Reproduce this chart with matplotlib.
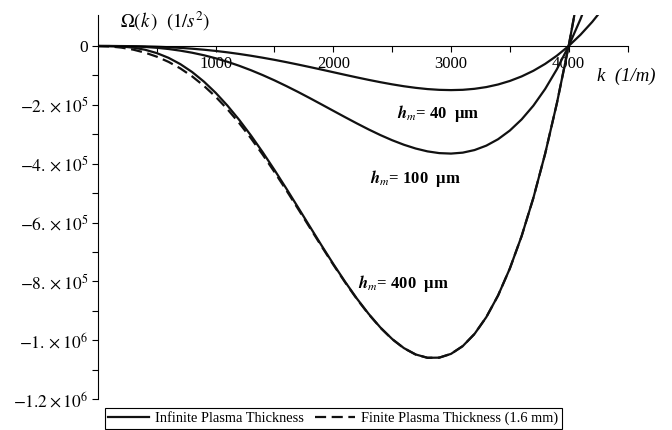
import matplotlib
matplotlib.use('Agg')
import matplotlib.pyplot as plt
from matplotlib.lines import Line2D

plt.rcParams['font.family'] = ['Liberation Serif', 'DejaVu Serif']
plt.rcParams['mathtext.fontset'] = 'stix'

# wavenumber k (1/m), 0..4000 every 100, then past the crossing
k = [0, 100, 200, 300, 400, 500, 600, 700, 800, 900, 1000,
     1100, 1200, 1300, 1400, 1500, 1600, 1700, 1800, 1900, 2000,
     2100, 2200, 2300, 2400, 2500, 2600, 2700, 2800, 2900, 3000,
     3100, 3200, 3300, 3400, 3500, 3600, 3700, 3800, 3900, 4000,
     4100, 4200, 4300]

# Omega(k) (1/s^2), infinite plasma thickness
omega_40 = [0, -22, -170, -560, -1290, -2440, -4100, -6310, -9140, -12600, -16700,
            -21500, -27000, -33100, -39800, -47000, -54800, -63000, -71500, -80200, -89100,
            -98000, -106700, -115100, -123000, -130300, -136800, -142200, -146400, -149000, -149900,
            -148900, -145500, -139600, -130800, -118800, -103400, -84200, -60800, -32800, 0,
            38100, 81900, 131800]
omega_100 = [0, -50, -420, -1390, -3210, -6100, -10200, -15800, -22800, -31400, -41700,
             -53600, -67200, -82300, -98900, -116800, -136000, -156100, -177100, -198600, -220300,
             -241900, -263100, -283600, -302800, -320300, -335700, -348500, -358200, -364100, -365700,
             -362500, -353700, -338700, -316900, -287400, -249600, -202800, -146100, -78800, 0,
             91100, 195400, 314000]
omega_400 = [0, -220, -1690, -5550, -12700, -24100, -40200, -61600, -88400, -120900, -159000,
             -202500, -251000, -304100, -361100, -421400, -484200, -548500, -613400, -678000, -741100,
             -801500, -858500, -910500, -956900, -996000, -1027000, -1048600, -1059900, -1059400, -1046600,
             -1020100, -978800, -921700, -848100, -756500, -646400, -516500, -366200, -194200, 0,
             217500, 459000, 726000]
# finite plasma thickness (1.6 mm), h_m = 400 um
omega_400_fin = [0, -1390, -5460, -12400, -22600, -36300, -54000, -76200, -103200, -135300, -172500,
                 -214800, -262000, -313700, -369400, -428400, -490000, -553300, -617300, -681100, -743500,
                 -803400, -860000, -911700, -957700, -996700, -1027500, -1049000, -1059900, -1059400, -1046600,
                 -1020100, -978800, -921700, -848100, -756500, -646400, -516500, -366200, -194200, 0,
                 217500, 459000, 726000]

x_major = [1000, 2000, 3000, 4000]
x_minor = [500, 1500, 2500, 3500, 4500]
y_major = [0, -2e5, -4e5, -6e5, -8e5, -1e6, -1.2e6]
y_labels = ['0', r'$-2.\times10^{5}$', r'$-4.\times10^{5}$', r'$-6.\times10^{5}$',
            r'$-8.\times10^{5}$', r'$-1.\times10^{6}$', r'$-1.2\times10^{6}$']
y_minor = [-1e5, -3e5, -5e5, -7e5, -9e5, -1.1e6]

fig = plt.figure(figsize=(6.72, 4.30), dpi=100)
ax = fig.add_axes([0.1458, 0.0721, 0.788, 0.893])

ink = '#111111'
ax.plot(k, omega_400_fin, color=ink, lw=1.6, ls=(0, (5, 2.5)))
ax.plot(k, omega_40, color=ink, lw=1.6)
ax.plot(k, omega_100, color=ink, lw=1.6)
ax.plot(k, omega_400, color=ink, lw=1.6)

ax.set_xlim(0, 4500)
ax.set_ylim(-1.2e6, 1.054e5)
ax.spines['top'].set_visible(False)
ax.spines['right'].set_visible(False)
ax.spines['bottom'].set_position(('data', 0))
for s in ax.spines.values():
    s.set_linewidth(0.8)

ax.set_xticks(x_major)
ax.set_xticklabels([str(v) for v in x_major])
ax.set_xticks(x_minor, minor=True)
ax.set_yticks(y_major)
ax.set_yticklabels(y_labels)
ax.set_yticks(y_minor, minor=True)
ax.tick_params(which='both', direction='out', length=4, width=0.8)
ax.tick_params(axis='x', pad=3, labelsize=12)
ax.tick_params(axis='y', pad=3, labelsize=12.5)

ax.text(187, 0.85e5, r'$\Omega(k\,)\ \ \mathit{(1/s^2)}$', fontsize=13.5, ha='left', va='center', clip_on=False)
ax.text(4243, -1.02e5, 'k  (1/m)', fontsize=13.5, style='italic', ha='left', va='center', clip_on=False)

label_font = dict(fontsize=12, fontweight='bold', ha='left', va='center')
ax.text(2543, -2.28e5, r'$\mathbfit{h}_{\mathit{m}}$= 40  μm', **label_font)
ax.text(2313, -4.52e5, r'$\mathbfit{h}_{\mathit{m}}$= 100  μm', **label_font)
ax.text(2211, -8.06e5, r'$\mathbfit{h}_{\mathit{m}}$= 400  μm', **label_font)

handles = [Line2D([], [], color=ink, lw=1.6),
           Line2D([], [], color=ink, lw=1.6, ls=(0, (5, 2.5)))]
leg = fig.legend(handles, ['Infinite Plasma Thickness', 'Finite Plasma Thickness (1.6 mm)'],
                 loc='lower center', bbox_to_anchor=(0.496, 0.0), ncol=2, fontsize=10.4,
                 frameon=True, fancybox=False, edgecolor='black', framealpha=1,
                 handlelength=2.8, handletextpad=0.4, columnspacing=0.8,
                 borderpad=0.25, borderaxespad=0.1)
leg.get_frame().set_linewidth(0.8)

fig.savefig('out.png', dpi=100)
